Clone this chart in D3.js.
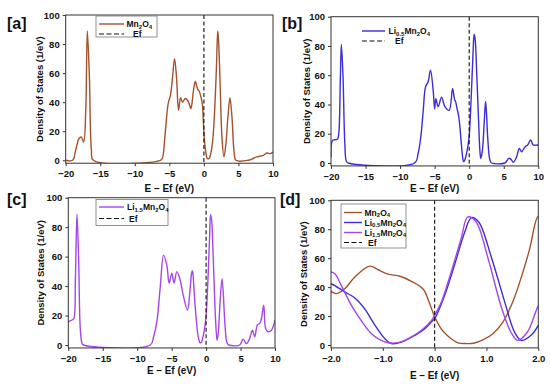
<!doctype html>
<html lang="en">
  <head>
    <meta charset="UTF-8" />
    <title>Density of States</title>
    <script src="https://d3js.org/d3.v7.min.js"></script>
    <style>
      body,
      html {
        margin: 0;
        padding: 0;
        background: #fff;
      }
      svg {
        display: block;
        font-family: "Liberation Sans", Arial, sans-serif;
        font-weight: bold;
      }
      .tick text {
        font-size: 9.5px;
        font-weight: bold;
        fill: #111;
      }
      .tick line {
        stroke: #333;
      }
    </style>
  </head>
  <body>
    <svg id="chart" width="550" height="385"></svg>
    <script>
      // energy (eV) vs DOS (1/eV)
      const mn2o4 = [
        [-20, 0], [-19.0, 0], [-18.55, 7], [-18.07, 15], [-17.73, 16], [-17.4, 12.6],
        [-17.1, 34], [-16.87, 89], [-16.57, 57], [-16.28, 7], [-16.0, 0], [-6.3, 0],
        [-6.0, 1.5], [-5.65, 16], [-5.17, 39], [-4.83, 45], [-4.54, 57], [-4.25, 70],
        [-3.96, 57], [-3.67, 34.5], [-3.38, 43], [-3.09, 40], [-2.71, 42.5], [-2.32, 41],
        [-2.0, 37], [-1.89, 35.5], [-1.73, 39], [-1.54, 47], [-1.25, 54.5], [-1.09, 52],
        [-0.9, 49], [-0.67, 47.5], [-0.45, 44], [-0.22, 38.5], [-0.1, 29], [0, 19.5],
        [0.13, 11], [0.26, 6], [0.45, 1.5], [0.6, 1], [0.75, 1.2], [0.93, 3.5], [1.13, 8],
        [1.32, 16], [1.51, 30], [1.7, 50], [1.83, 66], [2.0, 89], [2.1, 84], [2.32, 57],
        [2.61, 16], [2.9, 2.3], [3.19, 11.5], [3.48, 30], [3.77, 43], [4.06, 30],
        [4.35, 7], [4.64, 0], [6.4, 0], [7.0, 1], [7.63, 2.3], [8.1, 2.8], [8.6, 3.4],
        [9.1, 5], [9.6, 4.6], [10, 5.7]
      ];
      const li05 = [
        [-20, 4], [-19.94, 13.5], [-19.7, 15.7], [-19.07, 16.2], [-18.88, 20], [-18.64, 59],
        [-18.5, 81], [-18.26, 59], [-18.0, 13.5], [-17.77, 1], [-17.5, 0], [-7.9, 0],
        [-7.39, 6.6], [-7.0, 18], [-6.65, 36], [-6.32, 52], [-5.94, 55.6], [-5.6, 63.5],
        [-5.22, 50], [-5.0, 37], [-4.83, 44], [-4.49, 38.5], [-4.0, 45], [-3.52, 38.5],
        [-2.9, 36], [-2.4, 51], [-2.1, 43], [-2.0, 42.4], [-1.73, 36.6], [-1.54, 32.5],
        [-1.35, 25], [-1.15, 13.6], [-0.96, 4.4], [-0.83, 1], [-0.64, 2], [-0.38, 6.7],
        [-0.19, 11.3], [-0.06, 16], [0, 18.2], [0.19, 34], [0.38, 55], [0.58, 78],
        [0.71, 88], [0.85, 85], [1.1, 60], [1.35, 30], [1.54, 9], [1.67, 3.2], [1.86, 6.7],
        [2.0, 13.6], [2.2, 30], [2.37, 42], [2.55, 30], [2.67, 18], [3.0, 2], [3.25, 0],
        [5.17, 0], [5.45, 1.5], [5.75, 3.2], [6.05, 2.5], [6.38, 0.5], [6.87, 4.3],
        [7.25, 10], [7.59, 7.7], [8.07, 11], [8.46, 12.3], [8.9, 15.7], [9.28, 12.3],
        [9.86, 12.3], [10, 12]
      ];
      const li15 = [
        [-20, 15], [-19.94, 15.8], [-19.46, 17], [-19.2, 18], [-18.97, 45], [-18.74, 89],
        [-18.49, 56.5], [-18.26, 11], [-18.0, 1], [-17.8, 0], [-8.1, 0], [-7.62, 5.6],
        [-7.14, 16], [-6.67, 38.5], [-6.17, 61], [-5.7, 54], [-5.36, 42], [-4.97, 48.7],
        [-4.64, 42], [-4.25, 49.8], [-3.81, 45], [-3.33, 34], [-2.7, 23.8], [-2.36, 36],
        [-2.1, 49], [-2.0, 50.5], [-1.92, 49], [-1.8, 41], [-1.6, 27], [-1.4, 16],
        [-1.22, 7.8], [-1.03, 3.2], [-0.9, 1.6], [-0.71, 1.6], [-0.51, 4.4], [-0.26, 10],
        [-0.06, 17], [0, 20.5], [0.13, 29.7], [0.32, 50.5], [0.51, 73.5], [0.64, 88.5],
        [0.8, 85], [1.03, 60], [1.28, 27], [1.47, 9], [1.6, 3.2], [1.79, 9], [2.0, 27],
        [2.32, 45], [2.71, 16], [2.95, 3], [3.1, 1], [3.3, 0], [4.88, 0], [5.36, 4],
        [5.86, 1], [6.33, 4.5], [6.72, 10], [7.06, 5.6], [7.44, 13.6], [7.78, 14.7],
        [8.03, 18], [8.36, 27], [8.65, 11], [8.99, 9], [9.48, 10], [9.96, 16], [10, 17]
      ];

      const wideTicks = [-20, -15, -10, -5, 0, 5, 10];
      const zoomTicks = [-2, -1, 0, 1, 2];
      const dosTicks = [0, 20, 40, 60, 80, 100];

      const names = {
        mn: ["Mn", "2", "O", "4"],
        li05: ["Li", "0.5", "Mn", "2", "O", "4"],
        li15: ["Li", "1.5", "Mn", "2", "O", "4"]
      };
      const colors = { mn: "#a3532b", li05: "#3c2cd8", li15: "#a546e8" };
      const seriesData = { mn: mn2o4, li05: li05, li15: li15 };

      const svg = d3.select("#chart");

      const panels = [
        {
          tag: "[a]", tagX: 7, tagY: 29, series: ["mn"], xDomain: [-20, 10], ticks: wideTicks,
          x0: 65.7, x1: 273, y100: 15, y0: 160.3, xLabelY: 191.5, yLabelX: 42.5,
          legend: { box: [96, 16, 61, 21], rows: [24, 34], lx: [99, 124], tx: [126.5, 133] }
        },
        {
          tag: "[b]", tagX: 282, tagY: 29, series: ["li05"], xDomain: [-20, 10], ticks: wideTicks,
          x0: 331, x1: 538.3, y100: 16.7, y0: 163, xLabelY: 191.5, yLabelX: 310,
          legend: { box: null, rows: [31, 41], lx: [362, 385], tx: [388.5, 395] }
        },
        {
          tag: "[c]", tagX: 7, tagY: 205, series: ["li15"], xDomain: [-20, 10], ticks: wideTicks,
          x0: 68.3, x1: 275, y100: 197.7, y0: 345, xLabelY: 373.5, yLabelX: 43.5,
          legend: { box: [96, 199.5, 72, 26], rows: [207, 218.5], lx: [99, 124], tx: [127, 129] }
        },
        {
          tag: "[d]", tagX: 280, tagY: 205, series: ["mn", "li05", "li15"], xDomain: [-2, 2], ticks: zoomTicks,
          x0: 331, x1: 538.3, y100: 200.3, y0: 345, xLabelY: 378.5, yLabelX: 306.5,
          legend: { box: [341, 204, 65, 44], rows: [212.5, 222.5, 232.5, 242.5], lx: [344, 362], tx: [364.5, 368] }
        }
      ];

      function formula(sel, parts) {
        parts.forEach((p, i) => {
          const t = sel.append("tspan").text(p);
          if (i % 2 === 1) {
            t.attr("font-size", "6px").attr("dy", "1.8");
          } else if (i > 0) {
            t.attr("dy", "-1.8");
          }
        });
      }

      panels.forEach((p, pi) => {
        const x = d3.scaleLinear().domain(p.xDomain).range([p.x0, p.x1]);
        const y = d3.scaleLinear().domain([0, 100]).range([p.y0, p.y100]);
        const yBottom = y(-2);
        const g = svg.append("g");

        g.append("clipPath")
          .attr("id", "clip" + pi)
          .append("rect")
          .attr("x", p.x0)
          .attr("y", p.y100)
          .attr("width", p.x1 - p.x0)
          .attr("height", yBottom - p.y100);

        // curves
        const line = d3
          .line()
          .x((d) => x(d[0]))
          .y((d) => y(d[1]))
          .curve(d3.curveCatmullRom.alpha(0.5));

        p.series.forEach((key) => {
          const pts = seriesData[key].filter(
            (d) => d[0] >= p.xDomain[0] - 0.5 && d[0] <= p.xDomain[1] + 0.5
          );
          g.append("path")
            .attr("clip-path", `url(#clip${pi})`)
            .attr("d", line(pts))
            .attr("fill", "none")
            .attr("stroke", colors[key])
            .attr("stroke-width", 1.4);
        });

        // Fermi level
        g.append("line")
          .attr("x1", x(0))
          .attr("x2", x(0))
          .attr("y1", p.y100)
          .attr("y2", yBottom)
          .attr("stroke", "#111")
          .attr("stroke-width", 1.1)
          .attr("stroke-dasharray", "4,2.5");

        // frame
        g.append("rect")
          .attr("x", p.x0)
          .attr("y", p.y100)
          .attr("width", p.x1 - p.x0)
          .attr("height", yBottom - p.y100)
          .attr("fill", "none")
          .attr("stroke", "#333")
          .attr("stroke-width", 1);

        const xAxis = g
          .append("g")
          .attr("transform", `translate(0,${yBottom})`)
          .call(d3.axisBottom(x).tickValues(p.ticks).tickSize(3).tickPadding(4));
        xAxis.select(".domain").remove();

        const yAxis = g
          .append("g")
          .attr("transform", `translate(${p.x0},0)`)
          .call(d3.axisLeft(y).tickValues(dosTicks).tickSize(3).tickPadding(3));
        yAxis.select(".domain").remove();

        // axis titles
        g.append("text")
          .attr("x", (p.x0 + p.x1) / 2)
          .attr("y", p.xLabelY)
          .attr("text-anchor", "middle")
          .attr("font-size", "10px")
          .attr("fill", "#111")
          .text("E – Ef (eV)");

        g.append("text")
          .attr("transform", `translate(${p.yLabelX},${(p.y100 + yBottom) / 2}) rotate(-90)`)
          .attr("text-anchor", "middle")
          .attr("font-size", "9.5px")
          .attr("fill", "#111")
          .text("Density of States (1/eV)");

        g.append("text")
          .attr("x", p.tagX)
          .attr("y", p.tagY)
          .attr("font-size", "16px")
          .attr("fill", "#111")
          .text(p.tag);

        // legend
        const lg = p.legend;
        if (lg.box) {
          g.append("rect")
            .attr("x", lg.box[0])
            .attr("y", lg.box[1])
            .attr("width", lg.box[2])
            .attr("height", lg.box[3])
            .attr("fill", "#fff")
            .attr("stroke", "#777")
            .attr("stroke-width", 0.8);
        }
        const entries = p.series.map((k) => ({ key: k, dashed: false }));
        entries.push({ key: "ef", dashed: true });
        entries.forEach((e, i) => {
          const ry = lg.rows[i];
          g.append("line")
            .attr("x1", lg.lx[0])
            .attr("x2", lg.lx[1])
            .attr("y1", ry)
            .attr("y2", ry)
            .attr("stroke", e.dashed ? "#111" : colors[e.key])
            .attr("stroke-width", e.dashed ? 1.1 : 1.4)
            .attr("stroke-dasharray", e.dashed ? "5,2.5" : null);
          const t = g
            .append("text")
            .attr("x", e.dashed ? lg.tx[1] : lg.tx[0])
            .attr("y", ry + 3)
            .attr("font-size", "8.5px")
            .attr("fill", "#111");
          if (e.dashed) t.text("Ef");
          else formula(t, names[e.key]);
        });
      });
    </script>
  </body>
</html>
